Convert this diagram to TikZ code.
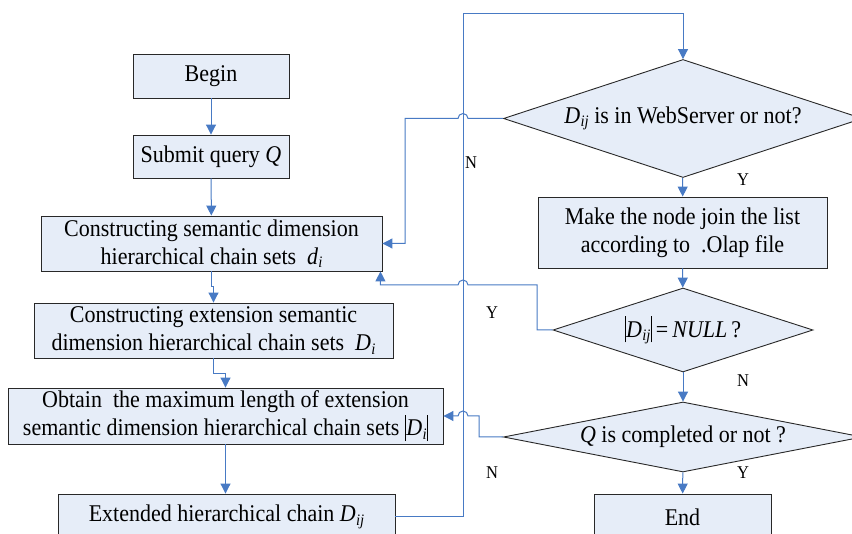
\documentclass[tikz,border=0pt]{standalone}
\usepackage{fontspec}
\setmainfont{Liberation Serif}[FakeStretch=0.917]
\usetikzlibrary{shapes.geometric,arrows.meta}
\definecolor{boxfill}{RGB}{230,237,248}
\definecolor{linkblue}{RGB}{72,122,196}
\definecolor{edgegray}{RGB}{40,40,40}
\newcommand{\Dsub}[1]{\textit{D}\kern0.3pt\raisebox{-0.3ex}{\fontsize{16}{16}\selectfont\itshape #1}}
\newcommand{\vbar}{\raisebox{-0.22em}{\rule{1.4pt}{1.1em}}}
\begin{document}
\begin{tikzpicture}[x=1pt,y=-1pt,
  box/.style={draw=edgegray,line width=0.9pt,fill=boxfill,inner sep=0pt,align=center,font=\fontsize{24}{28}\selectfont},
  dia/.style={diamond,draw=edgegray,line width=0.9pt,fill=boxfill,inner sep=0pt,font=\fontsize{24}{28}\selectfont},
  link/.style={draw=linkblue,line width=1pt,-{Triangle[length=10pt,width=10pt]}},
  lbl/.style={font=\fontsize{18}{18}\selectfont,inner sep=0pt}]
\useasboundingbox (0,0) rectangle (852,534);
\clip (0,0) rectangle (852,534);
\fill[white] (0,0) rectangle (852,534);

\node[box,minimum width=156pt,minimum height=44pt] (begin) at (211,76) {Begin};
\node[box,minimum width=156pt,minimum height=43pt] (submit) at (211,156.5) {Submit query \textit{Q}};
\node[box,minimum width=341pt,minimum height=55pt] (csem) at (211.5,243.5)
  {Constructing semantic dimension\\hierarchical chain sets \ \textit{d}\raisebox{-0.3ex}{\fontsize{16}{16}\selectfont\itshape i}};
\node[box,minimum width=359pt,minimum height=55pt] (cext) at (213.5,330.5)
  {Constructing extension semantic\\dimension hierarchical chain sets \ \Dsub{i}};
\node[box,minimum width=435pt,minimum height=56pt] (obtain) at (225.5,416)
  {Obtain \ the maximum length of extension\\semantic dimension hierarchical chain sets \vbar\Dsub{i}\vbar};
\node[box,minimum width=337pt,minimum height=46pt] (ext) at (226.5,517) {Extended hierarchical chain \Dsub{ij}};

\node[dia,shape aspect=3,minimum width=359pt,minimum height=118pt] (d1) at (683,118.5) {\Dsub{ij} is in WebServer or not?};
\node[box,minimum width=289pt,minimum height=71pt] (make) at (682.5,232.5)
  {Make the node join the list\\according to \ .Olap file};
\node[dia,shape aspect=3,minimum width=260pt,minimum height=84pt] (d2) at (683,330) {\vbar\Dsub{ij}\vbar\,=\,\textit{NULL}\,?};
\node[dia,shape aspect=5,minimum width=359pt,minimum height=70pt] (d3) at (683,437) {\textit{Q} is completed or not ?};
\node[box,minimum width=177pt,minimum height=46pt] (end) at (682.5,517) {End};

\draw[link] (begin) -- (submit);
\draw[link] (submit) -- (csem);
\draw[link] (csem.south) -- ++(0,15) -| (cext.north);
\draw[link] (cext.south) -- ++(0,15) -| (obtain.north);
\draw[link] (obtain.south) -- (obtain.south |- ext.north);
\draw[link] (ext.east) -| (463,14) -| (d1.north);
\draw[link] (d1.west) -- (468,118.5) arc[start angle=0,end angle=180,radius=5pt] -- (405,118.5) |- (csem.east);
\draw[link] (d1) -- (make);
\draw[link] (make) -- (d2);
\draw[link] (d2.west) -- (537,330) -- (537,285) -- (468,285) arc[start angle=0,end angle=180,radius=5pt] -| ([xshift=-2pt]csem.south east);
\draw[link] (d2) -- (d3);
\draw[link] (d3.west) -- (479,437) -- (479,416) -- (468,416) arc[start angle=0,end angle=180,radius=5pt] -- (obtain.east);
\draw[link] (d3) -- (end);

\node[lbl] (n1) at (471,163) {N};
\node[lbl] (y1) at (743,180) {Y};
\node[lbl] (y2) at (492,313) {Y};
\node[lbl] (n2) at (743,381) {N};
\node[lbl] (n3) at (492,473) {N};
\node[lbl] (y3) at (743,473) {Y};
\end{tikzpicture}
\end{document}
